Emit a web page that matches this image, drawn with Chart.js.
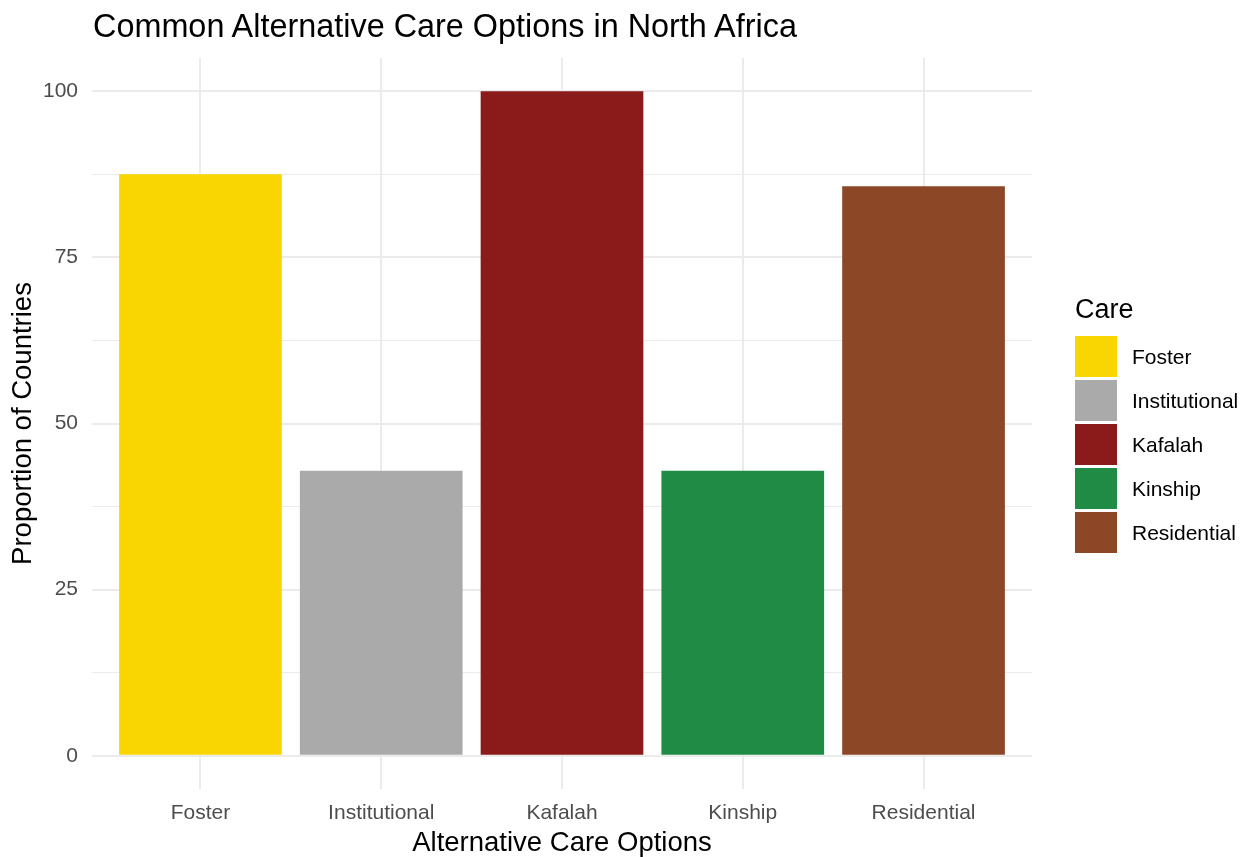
<!DOCTYPE html>
<html>
<head>
<meta charset="utf-8">
<script src="https://cdn.jsdelivr.net/npm/chart.js@4"></script>
<style>
  html, body { margin: 0; padding: 0; background: #fff; }
  body { width: 1244px; height: 857px; position: relative; overflow: hidden; font-family: 'Liberation Sans', Arial, sans-serif; }
  #chart-wrap { position: absolute; left: 0; top: 0; width: 1244px; height: 857px; }
  .title { position: absolute; left: 93px; top: 8px; font-size: 32.4px; color: #000; white-space: nowrap; }
  .legend { position: absolute; left: 1075px; top: 292px; }
  .legend-title { font-size: 27px; color: #000; margin-bottom: 10px; line-height: 34px; }
  .legend-item { display: flex; align-items: center; height: 41px; margin-bottom: 3px; }
  .legend-key { width: 42px; height: 41px; margin-right: 15px; }
  .legend-label { font-size: 21px; color: #000; }
</style>
</head>
<body>
<div id="chart-wrap"><canvas id="chart-care" width="1244" height="857"></canvas></div>
<div class="title">Common Alternative Care Options in North Africa</div>
<div class="legend" id="legend"></div>
<script>
const categories = ['Foster', 'Institutional', 'Kafalah', 'Kinship', 'Residential'];
const proportions = [87.5, 42.9, 100, 42.9, 85.7];
const barColors = ['#F9D602', '#AAAAAA', '#8B1A1A', '#1F8B45', '#8B4726'];
const yTicks = [0, 12.5, 25, 37.5, 50, 62.5, 75, 87.5, 100];

const legend = document.getElementById('legend');
legend.innerHTML = '<div class="legend-title">Care</div>' + categories.map((c, i) => `
  <div class="legend-item">
    <div class="legend-key" style="background:${barColors[i]}"></div>
    <div class="legend-label">${c}</div>
  </div>`).join('');

const tickFont = { family: 'Liberation Sans', size: 21 };
const titleFont = { family: 'Liberation Sans', size: 27.5 };

new Chart(document.getElementById('chart-care'), {
  type: 'bar',
  data: {
    datasets: [{
      label: 'Care',
      data: proportions.map((v, i) => ({ x: i, y: v })),
      backgroundColor: barColors,
      borderWidth: 0,
      barPercentage: 0.9,
      categoryPercentage: 1
    }]
  },
  options: {
    responsive: false,
    animation: false,
    maintainAspectRatio: false,
    layout: { padding: { top: 58, right: 212, left: 0, bottom: 0 } },
    plugins: { legend: { display: false }, tooltip: { enabled: false }, title: { display: false } },
    scales: {
      x: {
        type: 'linear',
        min: -0.6,
        max: 4.6,
        offset: false,
        afterBuildTicks: s => { s.ticks = categories.map((_, i) => ({ value: i })); },
        afterFit: s => { s.height = 68; },
        ticks: { color: '#4D4D4D', font: tickFont, padding: 12, autoSkip: false, maxRotation: 0,
                 callback: v => categories[v] },
        grid: { color: '#EBEBEB', lineWidth: 2, drawTicks: false, offset: false },
        border: { display: false },
        title: { display: true, text: 'Alternative Care Options', color: '#000', font: titleFont, padding: { top: 0, bottom: -3 } }
      },
      y: {
        min: -5,
        max: 105,
        afterBuildTicks: s => { s.ticks = yTicks.map(v => ({ value: v })); },
        afterFit: s => { s.width = 92; },
        ticks: { color: '#4D4D4D', font: tickFont, padding: 14, autoSkip: false,
                 callback: v => (v % 25 === 0 ? v : '') },
        grid: { color: '#EBEBEB', drawTicks: false,
                lineWidth: c => (c.tick && c.tick.value % 25 === 0 ? 2 : 1) },
        border: { display: false },
        title: { display: true, text: 'Proportion of Countries', color: '#000', font: titleFont, padding: { top: 7, bottom: 0 } }
      }
    }
  }
});
</script>
</body>
</html>
